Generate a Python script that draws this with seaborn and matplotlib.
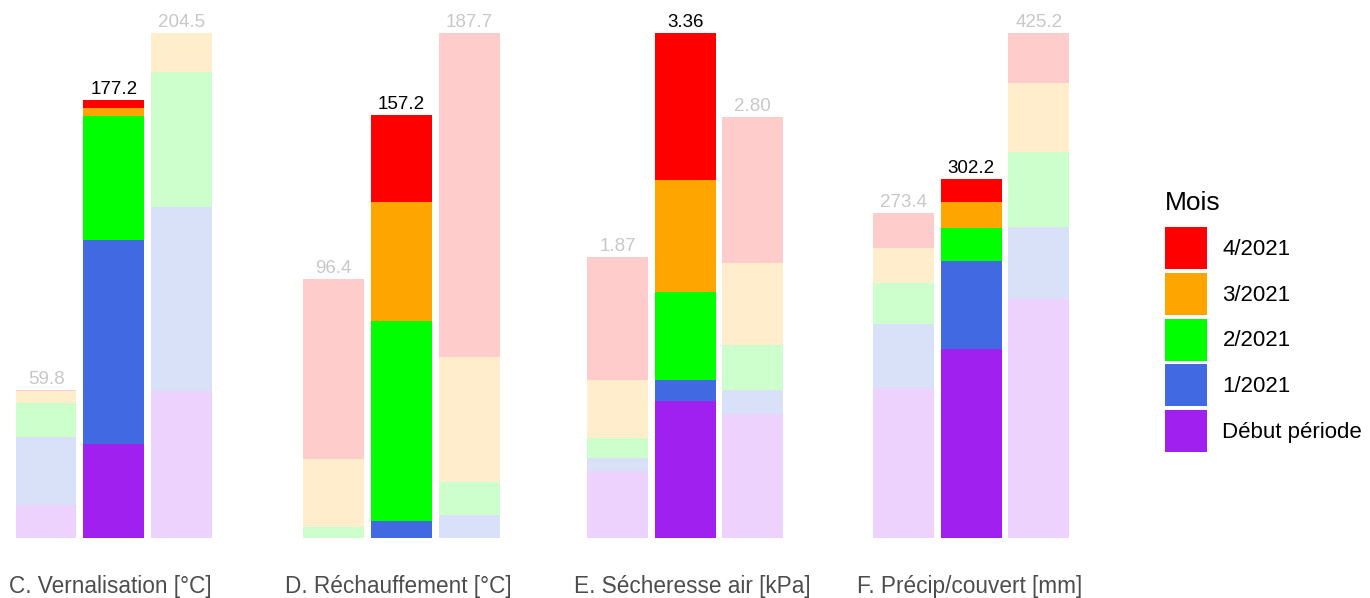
import matplotlib
matplotlib.use("Agg")
import matplotlib.pyplot as plt
import matplotlib.colors as mcolors
from matplotlib.patches import Patch
import pandas as pd
import seaborn as sns

# Stacking order, bottom to top
mois = ["Début période", "1/2021", "2/2021", "3/2021", "4/2021"]
couleurs = ["#A020F0", "#4169E1", "#00FF00", "#FFA500", "#FF0000"]

titres = [
    "C. Vernalisation [°C]",
    "D. Réchauffement [°C]",
    "E. Sécheresse air [kPa]",
    "F. Précip/couvert [mm]",
]
barres = ["gauche", "centre", "droite"]
decimales = [1, 1, 2, 1]

# values per bar: [Début période, 1/2021, 2/2021, 3/2021, 4/2021]
vernalisation = [
    [13.2, 27.7, 13.9, 4.7, 0.3],
    [38.1, 82.6, 50.2, 3.1, 3.2],
    [59.5, 74.5, 54.8, 15.7, 0.0],
]
rechauffement = [
    [0.0, 0.0, 4.1, 25.2, 67.1],
    [0.0, 6.3, 74.3, 44.4, 32.2],
    [0.0, 8.5, 12.3, 46.3, 120.6],
]
secheresse = [
    [0.446, 0.086, 0.133, 0.386, 0.819],
    [0.912, 0.140, 0.585, 0.745, 0.978],
    [0.825, 0.160, 0.300, 0.546, 0.969],
]
precip = [
    [126.3, 53.9, 34.5, 29.5, 29.2],
    [159.1, 74.1, 27.8, 21.9, 19.3],
    [201.2, 60.6, 63.1, 58.1, 42.2],
]
panneaux = [vernalisation, rechauffement, secheresse, precip]

sns.set_theme(style="white")
plt.rcParams["font.family"] = ["Liberation Sans", "DejaVu Sans"]


def pale(c, a=0.2):
    r, g, b = mcolors.to_rgb(c)
    return (1 - a + a * r, 1 - a + a * g, 1 - a + a * b)


fig = plt.figure(figsize=(13.7, 5.98), dpi=100)

lefts = [0.0089, 0.219, 0.426, 0.6348]
titre_x = [0.0066, 0.208, 0.419, 0.6255]

for k, valeurs in enumerate(panneaux):
    ax = fig.add_axes([lefts[k], 0.1003, 0.1482, 0.8445])

    rows = []
    for b, seg in zip(barres, valeurs):
        for m, v in zip(mois, seg):
            rows.append({"barre": b, "mois": m, "valeur": v})
    df = pd.DataFrame(rows)
    df["cumul"] = df.groupby("barre")["valeur"].cumsum()

    # draw from the top layer down so lower layers sit over the cumulative bars
    for m, c in reversed(list(zip(mois, couleurs))):
        couche = df[df["mois"] == m]
        pal = {"gauche": pale(c), "centre": c, "droite": pale(c)}
        sns.barplot(
            data=couche, x="barre", y="cumul", hue="barre", order=barres,
            palette=pal, width=0.9, saturation=1, linewidth=0,
            errorbar=None, legend=False, ax=ax,
        )

    totaux = df.groupby("barre", sort=False)["valeur"].sum()
    for i, b in enumerate(barres):
        tot = totaux[b]
        ax.annotate(
            f"{tot:.{decimales[k]}f}", (i, tot), xytext=(0, 1.5),
            textcoords="offset points", ha="center", va="bottom",
            fontsize=13.5, color="black" if b == "centre" else "#c8c8c8",
            annotation_clip=False,
        )

    ax.set_xlim(-0.5, 2.5)
    ax.set_ylim(0, totaux.max())
    ax.axis("off")

    fig.text(titre_x[k], 0.0084, titres[k], ha="left", va="baseline",
             fontsize=16.3, color="#4d4d4d")

handles = [Patch(facecolor=c, edgecolor="none", label=m)
           for m, c in reversed(list(zip(mois, couleurs)))]
leg = fig.legend(
    handles=handles, title="Mois", loc="upper left",
    bbox_to_anchor=(0.842, 0.700), frameon=False, fontsize=16,
    title_fontsize=19, handlelength=1.9, handleheight=2.53,
    handletextpad=0.7, labelspacing=0.17, borderpad=0, alignment="left",
    labelcolor="black",
)
leg.get_title().set_color("black")
leg._legend_box.sep = 9

fig.savefig("out.png", dpi=100)
